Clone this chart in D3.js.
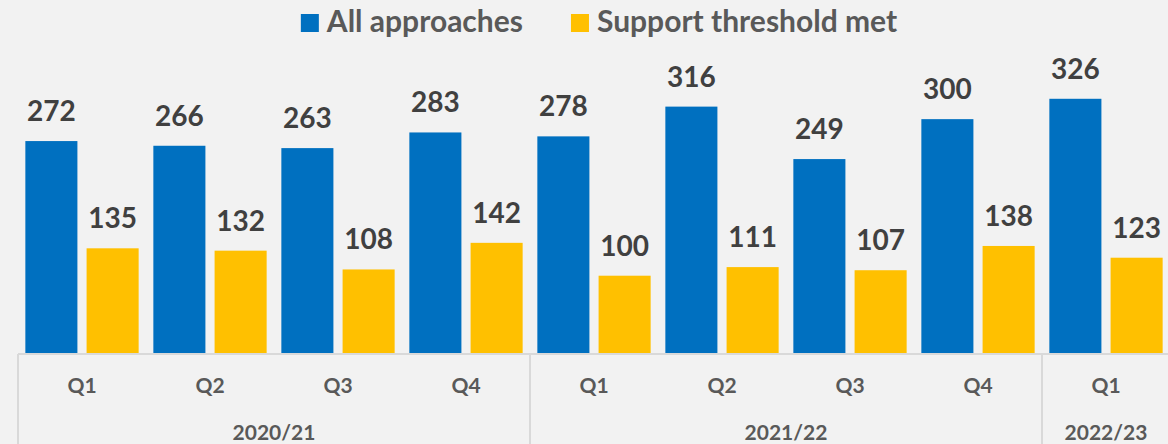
<!DOCTYPE html>
<html>
<head>
<meta charset="utf-8">
<script src="https://cdn.jsdelivr.net/npm/d3@7"></script>
<style>
  html, body { margin: 0; padding: 0; background: #f2f2f2; overflow: hidden; }
  svg { display: block; font-family: Lato, "Open Sans", sans-serif; }
</style>
</head>
<body>
<svg id="chart" width="1168" height="444"></svg>
<script>
// Quarterly counts by financial year
const quarters = ["Q1", "Q2", "Q3", "Q4", "Q1", "Q2", "Q3", "Q4", "Q1"];
const years = ["2020/21", "2020/21", "2020/21", "2020/21", "2021/22", "2021/22", "2021/22", "2021/22", "2022/23"];
const allApproaches = [272, 266, 263, 283, 278, 316, 249, 300, 326];
const supportMet = [135, 132, 108, 142, 100, 111, 107, 138, 123];
const seriesNames = ["All approaches", "Support threshold met"];
const seriesColors = ["#0070C0", "#FFC000"];

const svg = d3.select("#chart");
const W = 1168, H = 444;
const plotLeft = 18, plotRight = 1170, baseY = 354, topY = 80;

const idx = quarters.map((_, i) => i);
const x0 = d3.scaleBand().domain(idx).range([plotLeft, plotRight]).paddingInner(0).paddingOuter(0);
const x1 = d3.scaleBand().domain([0, 1]).range([0, x0.bandwidth()]).paddingInner(0.15).paddingOuter(0.12);
const y = d3.scaleLinear().domain([0, 350]).range([baseY, topY]);

const rows = idx.map(i => ({ i, values: [allApproaches[i], supportMet[i]] }));

const groups = svg.append("g").selectAll("g")
  .data(rows).join("g")
  .attr("transform", d => `translate(${x0(d.i)},0)`);

groups.selectAll("rect")
  .data(d => d.values.map((v, s) => ({ v, s })))
  .join("rect")
  .attr("x", d => x1(d.s))
  .attr("width", x1.bandwidth())
  .attr("y", d => y(d.v))
  .attr("height", d => y(0) - y(d.v))
  .attr("fill", d => seriesColors[d.s]);

groups.selectAll("text.val")
  .data(d => d.values.map((v, s) => ({ v, s })))
  .join("text")
  .attr("class", "val")
  .attr("x", d => x1(d.s) + x1.bandwidth() / 2)
  .attr("y", d => y(d.v) - 20)
  .attr("text-anchor", "middle")
  .attr("font-size", 28)
  .attr("font-weight", 700)
  .attr("fill", "#404040")
  .text(d => d.v);

// Category axis: baseline, quarter labels, year groups
const axisColor = "#d9d9d9";
svg.append("line")
  .attr("x1", plotLeft).attr("x2", plotRight)
  .attr("y1", baseY).attr("y2", baseY)
  .attr("stroke", axisColor).attr("stroke-width", 2);

svg.append("g").selectAll("text")
  .data(idx).join("text")
  .attr("x", i => x0(i) + x0.bandwidth() / 2)
  .attr("y", 393)
  .attr("text-anchor", "middle")
  .attr("font-size", 21)
  .attr("font-weight", 700)
  .attr("fill", "#595959")
  .text(i => quarters[i]);

const yearGroups = Array.from(d3.group(idx, i => years[i]), ([yr, list]) => ({
  yr, start: x0(list[0]), end: x0(list[list.length - 1]) + x0.bandwidth()
}));

svg.append("g").selectAll("line")
  .data(yearGroups).join("line")
  .attr("x1", d => d.start).attr("x2", d => d.start)
  .attr("y1", baseY).attr("y2", H)
  .attr("stroke", axisColor).attr("stroke-width", 2);

svg.append("g").selectAll("text")
  .data(yearGroups).join("text")
  .attr("x", d => (d.start + d.end) / 2)
  .attr("y", 440)
  .attr("text-anchor", "middle")
  .attr("font-size", 21)
  .attr("font-weight", 700)
  .attr("fill", "#595959")
  .text(d => d.yr);

// Legend, centred over the plot
const legend = svg.append("g");
const items = legend.selectAll("g").data(seriesNames).join("g");
items.append("rect")
  .attr("width", 18).attr("height", 18).attr("y", 14)
  .attr("fill", (d, i) => seriesColors[i]);
items.append("text")
  .attr("x", 26).attr("y", 32)
  .attr("font-size", 30).attr("font-weight", 700)
  .attr("fill", "#595959")
  .text(d => d);
let off = 0;
const gap = 48;
items.each(function () {
  const w = d3.select(this).select("text").node().getComputedTextLength() + 26;
  d3.select(this).attr("transform", `translate(${off},0)`);
  off += w + gap;
});
const total = off - gap;
legend.attr("transform", `translate(${(plotLeft + plotRight) / 2 + 5 - total / 2},0)`);
</script>
</body>
</html>
